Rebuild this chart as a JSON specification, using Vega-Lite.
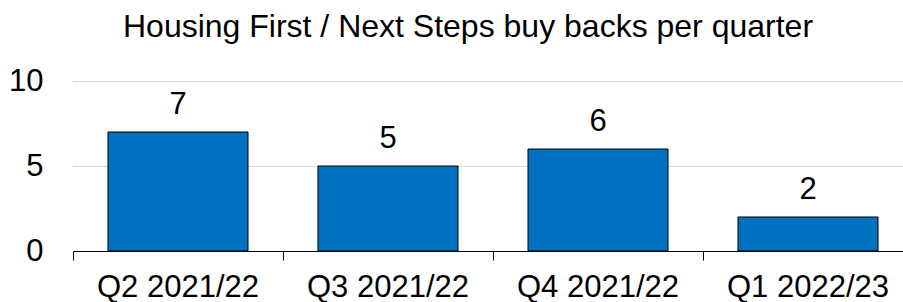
{
  "$schema": "https://vega.github.io/schema/vega-lite/v6.json",
  "autosize": {"type": "none"},
  "padding": {"left": 73, "top": 81, "right": 0, "bottom": 51},
  "width": 840,
  "height": 170,
  "background": "white",
  "title": {
    "text": "Housing First / Next Steps buy backs per quarter",
    "font": "Liberation Sans",
    "fontSize": 32,
    "fontWeight": "normal",
    "color": "black",
    "anchor": "middle",
    "frame": "group",
    "dx": -25,
    "baseline": "alphabetic",
    "offset": -4
  },
  "config": {
    "view": {"stroke": null},
    "font": "Liberation Sans"
  },
  "data": {
    "values": [
      {"quarter": "Q2 2021/22", "count": 7},
      {"quarter": "Q3 2021/22", "count": 5},
      {"quarter": "Q4 2021/22", "count": 6},
      {"quarter": "Q1 2022/23", "count": 2}
    ]
  },
  "encoding": {
    "x": {
      "field": "quarter",
      "type": "nominal",
      "sort": null,
      "scale": {"paddingInner": 0, "paddingOuter": 0},
      "axis": {
        "title": null,
        "labelAngle": 0,
        "labelFont": "Liberation Sans",
        "labelFontSize": 31,
        "labelColor": "black",
        "labelBaseline": "alphabetic",
        "labelPadding": 36,
        "domainColor": "black",
        "domainWidth": 1,
        "tickColor": "black",
        "tickWidth": 1,
        "tickSize": 9,
        "bandPosition": 0,
        "grid": false
      }
    },
    "y": {
      "field": "count",
      "type": "quantitative",
      "scale": {"domain": [0, 10]},
      "axis": {
        "title": null,
        "values": [0, 5, 10],
        "labelFont": "Liberation Sans",
        "labelFontSize": 31,
        "labelColor": "black",
        "labelPadding": 30,
        "domain": false,
        "ticks": false,
        "grid": true,
        "gridColor": "#d9d9d9",
        "gridWidth": 1
      }
    }
  },
  "layer": [
    {
      "mark": {"type": "bar", "width": {"band": 0.6667}, "color": "#0070C0", "stroke": "black", "strokeWidth": 1}
    },
    {
      "mark": {"type": "text", "font": "Liberation Sans", "fontSize": 31, "color": "black", "baseline": "alphabetic", "dy": -18},
      "encoding": {"text": {"field": "count", "type": "quantitative"}}
    }
  ]
}
